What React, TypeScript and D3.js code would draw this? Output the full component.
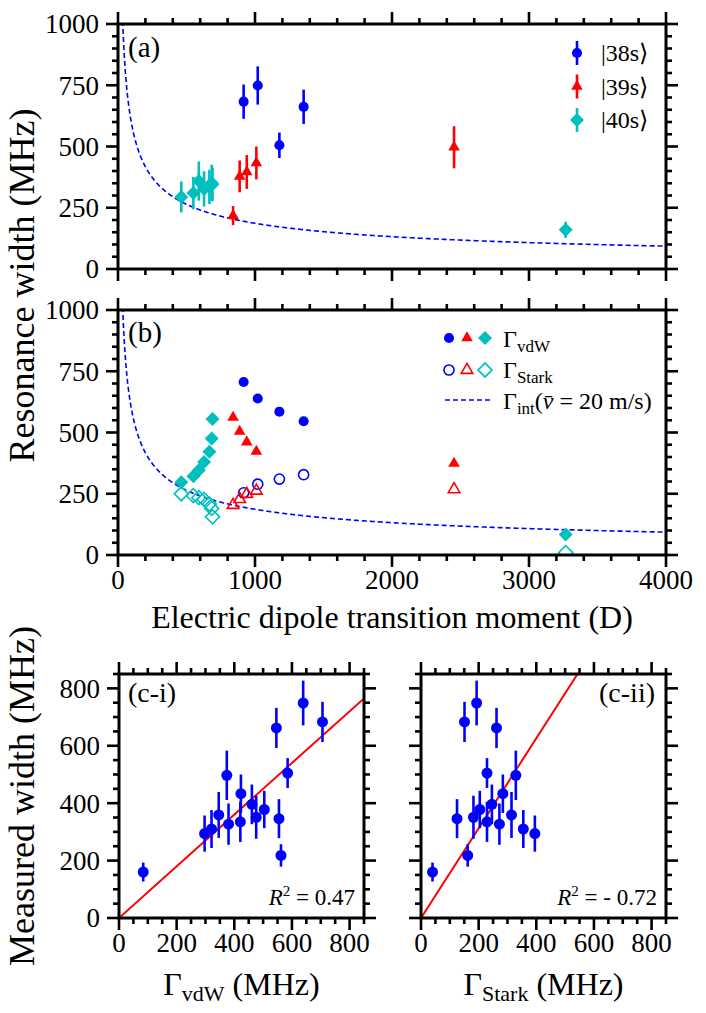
import React from 'react';
import * as d3 from 'd3';

// ---------- data ----------
// |38s>
const dipole38 = [917, 1020, 1178, 1355];
const measured38 = [683, 749, 505, 662];
const err38 = [70, 78, 52, 70];
const vdw38 = [706, 639, 585, 546];
const stark38 = [254, 289, 310, 328];
const starkFit38 = [151, 193, 229, 262];
// |39s>
const dipole39 = [840, 888, 940, 1010, 2453];
const measured39 = [218, 378, 396, 433, 497];
const err39 = [39, 65, 69, 67, 86];
const vdw39 = [562, 504, 461, 423, 374];
const stark39 = [204, 228, 249, 262, 268];
const starkFit39 = [162, 204, 246, 284, 329];
// |40s>
const dipole40 = [462, 550, 590, 628, 667, 684, 690, 3268];
const measured40 = [294, 310, 359, 327, 335, 351, 346, 160];
const err40 = [63, 66, 80, 72, 70, 75, 68, 33];
const vdw40 = [297, 321, 346, 380, 421, 476, 555, 84];
const stark40 = [250, 242, 234, 227, 208, 190, 156, 10];
const starkFit40 = [395, 355, 314, 272, 229, 182, 125, 40];

// interaction-time broadening curve Gamma_int ~ C / sqrt(d)
const gammaIntCoeff = 5900;
const gammaIntDipoles = d3.range(30, 4001, 2);

// linear fits through origin (slopes)
const fitSlopeVdw = 0.9;
const fitSlopeStark = 1.565;
const r2Vdw = '0.47';
const r2Stark = '- 0.72';

const xTicksAB = [0, 1000, 2000, 3000, 4000];
const yTicksAB = [0, 250, 500, 750, 1000];
const ticksC = [0, 200, 400, 600, 800];

const BLUE = '#0000ff';
const RED = '#ff0000';
const CYAN = '#00bfbf';
const FONT = '"Liberation Serif", "Times New Roman", serif';

// ---------- layout ----------
const A = { l: 118, r: 666, t: 24, b: 269 };
const B = { l: 118, r: 666, t: 310, b: 555 };
const C1 = { l: 119, r: 364, t: 674, b: 918 };
const C2 = { l: 421, r: 666, t: 674, b: 918 };

const xAB = d3.scaleLinear().domain([0, 4000]).range([A.l, A.r]);
const yA = d3.scaleLinear().domain([0, 1000]).range([A.b, A.t]);
const yB = d3.scaleLinear().domain([0, 1000]).range([B.b, B.t]);
const xC1 = d3.scaleLinear().domain([0, 850]).range([C1.l, C1.r]);
const xC2 = d3.scaleLinear().domain([0, 850]).range([C2.l, C2.r]);
const yC = d3.scaleLinear().domain([0, 850]).range([C1.b, C1.t]);

const circlePath = d3.symbol(d3.symbolCircle, 80)()!;
const circleCPath = d3.symbol(d3.symbolCircle, 95)()!;
const triPath = d3.symbol(d3.symbolTriangle, 58)()!;
const squarePath = d3.symbol(d3.symbolSquare, 98)()!;

type Shape = 'circle' | 'tri' | 'diamond';

function Marker({ x, y, shape, color, open }: { x: number; y: number; shape: Shape; color: string; open?: boolean }) {
  const d = shape === 'circle' ? circlePath : shape === 'tri' ? triPath : squarePath;
  const rot = shape === 'diamond' ? ' rotate(45)' : '';
  return (
    <path
      d={d}
      transform={`translate(${x},${y})${rot}`}
      fill={open ? 'none' : color}
      stroke={color}
      strokeWidth={open ? 1.6 : 0}
    />
  );
}

function Frame({
  box, xs, ys, xMajor, xMinor, yMajor, yMinor, xLabels, yLabels,
}: {
  box: { l: number; r: number; t: number; b: number };
  xs: d3.ScaleLinear<number, number>;
  ys: d3.ScaleLinear<number, number>;
  xMajor: number[]; xMinor: number[]; yMajor: number[]; yMinor: number[];
  xLabels: boolean; yLabels: boolean;
}) {
  const M = 12, m = 6;
  const els: React.ReactNode[] = [];
  const add = (v: number, len: number, key: string) => {
    const X = xs(v);
    els.push(<line key={`b${key}`} x1={X} x2={X} y1={box.b} y2={box.b + len} />);
    els.push(<line key={`t${key}`} x1={X} x2={X} y1={box.t} y2={box.t - len} />);
  };
  const addY = (v: number, len: number, key: string) => {
    const Y = ys(v);
    els.push(<line key={`l${key}`} x1={box.l} x2={box.l - len} y1={Y} y2={Y} />);
    els.push(<line key={`r${key}`} x1={box.r} x2={box.r + len} y1={Y} y2={Y} />);
  };
  xMajor.forEach((v) => add(v, M, `M${v}`));
  xMinor.forEach((v) => add(v, m, `m${v}`));
  yMajor.forEach((v) => addY(v, M, `M${v}`));
  yMinor.forEach((v) => addY(v, m, `m${v}`));
  return (
    <g>
      <g stroke="#000" strokeWidth={2.6}>{els}</g>
      <rect x={box.l} y={box.t} width={box.r - box.l} height={box.b - box.t} fill="none" stroke="#000" strokeWidth={3} />
      {xLabels && xMajor.map((v) => (
        <text key={`xl${v}`} x={xs(v)} y={box.b + 34} textAnchor="middle" fontSize={27} fontFamily={FONT}>{v}</text>
      ))}
      {yLabels && yMajor.map((v) => (
        <text key={`yl${v}`} x={box.l - 19} y={ys(v)} dy="0.35em" textAnchor="end" fontSize={27} fontFamily={FONT}>{v}</text>
      ))}
    </g>
  );
}

function ErrPoint({ x, y, y0, y1, shape, color }: { x: number; y: number; y0: number; y1: number; shape: Shape; color: string }) {
  return (
    <g>
      <line x1={x} x2={x} y1={y0} y2={y1} stroke={color} strokeWidth={2.6} />
      <Marker x={x} y={y} shape={shape} color={color} />
    </g>
  );
}

const minorRange = (a: number, b: number, step: number, majorStep: number) =>
  d3.range(a, b + 0.001, step).filter((v) => Math.abs(v % majorStep) > 1e-6);

export default function App() {
  const xMinorAB = minorRange(0, 4000, 200, 1000);
  const yMinorAB = minorRange(0, 1000, 50, 250);
  const minorC = minorRange(0, 850, 50, 200);

  const curveLine = (ys: d3.ScaleLinear<number, number>) =>
    d3.line<number>()
      .x((d) => xAB(d))
      .y((d) => ys(gammaIntCoeff / Math.sqrt(d)))(gammaIntDipoles) || '';

  const groups = [
    { D: dipole38, meas: measured38, err: err38, vdw: vdw38, stark: stark38, sfit: starkFit38, shape: 'circle' as Shape, color: BLUE },
    { D: dipole39, meas: measured39, err: err39, vdw: vdw39, stark: stark39, sfit: starkFit39, shape: 'tri' as Shape, color: RED },
    { D: dipole40, meas: measured40, err: err40, vdw: vdw40, stark: stark40, sfit: starkFit40, shape: 'diamond' as Shape, color: CYAN },
  ];

  const legA = [
    { label: '|38s⟩', shape: 'circle' as Shape, color: BLUE },
    { label: '|39s⟩', shape: 'tri' as Shape, color: RED },
    { label: '|40s⟩', shape: 'diamond' as Shape, color: CYAN },
  ];

  return (
    <svg width={706} height={1013} style={{ position: 'absolute', left: 0, top: 0, background: '#fff' }} fontFamily={FONT}>
      <rect width={706} height={1013} fill="#fff" />
      <defs>
        <clipPath id="clipA"><rect x={A.l} y={A.t} width={A.r - A.l} height={A.b - A.t} /></clipPath>
        <clipPath id="clipB"><rect x={B.l} y={B.t} width={B.r - B.l} height={B.b - B.t} /></clipPath>
        <clipPath id="clipC1"><rect x={C1.l} y={C1.t} width={C1.r - C1.l} height={C1.b - C1.t} /></clipPath>
        <clipPath id="clipC2"><rect x={C2.l} y={C2.t} width={C2.r - C2.l} height={C2.b - C2.t} /></clipPath>
      </defs>

      {/* ---------- panel (a) ---------- */}
      <path d={curveLine(yA)} fill="none" stroke={BLUE} strokeWidth={1.6} strokeDasharray="5,3" clipPath="url(#clipA)" />
      {groups.map((g, gi) => g.D.map((d, i) => (
        <ErrPoint key={`a${gi}-${i}`} x={xAB(d)} y={yA(g.meas[i])} y0={yA(g.meas[i] - g.err[i])} y1={yA(g.meas[i] + g.err[i])} shape={g.shape} color={g.color} />
      )))}
      <Frame box={A} xs={xAB} ys={yA} xMajor={xTicksAB} xMinor={xMinorAB} yMajor={yTicksAB} yMinor={yMinorAB} xLabels={false} yLabels={true} />
      <text x={128} y={57} fontSize={29}>(a)</text>
      {legA.map((e, i) => {
        const y = 53 + i * 33.5;
        return (
          <g key={`la${i}`}>
            <line x1={577} x2={577} y1={y - 12} y2={y + 12} stroke={e.color} strokeWidth={2.6} />
            <Marker x={577} y={y} shape={e.shape} color={e.color} />
            <text x={601} y={y} dy="0.35em" fontSize={24}>{e.label}</text>
          </g>
        );
      })}

      {/* ---------- panel (b) ---------- */}
      <path d={curveLine(yB)} fill="none" stroke={BLUE} strokeWidth={1.6} strokeDasharray="5,3" clipPath="url(#clipB)" />
      <g clipPath="url(#clipB)">
        {groups.map((g, gi) => g.D.map((d, i) => (
          <Marker key={`bo${gi}-${i}`} x={xAB(d)} y={yB(g.stark[i])} shape={g.shape} color={g.color} open />
        )))}
        {groups.map((g, gi) => g.D.map((d, i) => (
          <Marker key={`bf${gi}-${i}`} x={xAB(d)} y={yB(g.vdw[i])} shape={g.shape} color={g.color} />
        )))}
      </g>
      <Frame box={B} xs={xAB} ys={yB} xMajor={xTicksAB} xMinor={xMinorAB} yMajor={yTicksAB} yMinor={yMinorAB} xLabels={true} yLabels={true} />
      <text x={128} y={342} fontSize={29}>(b)</text>
      {/* legend (b) */}
      <Marker x={449} y={338} shape="circle" color={BLUE} />
      <Marker x={467} y={338} shape="tri" color={RED} />
      <Marker x={485} y={338} shape="diamond" color={CYAN} />
      <text x={503} y={347} fontSize={24}>Γ<tspan fontSize={17} dy={5}>vdW</tspan></text>
      <Marker x={449} y={370} shape="circle" color={BLUE} open />
      <Marker x={467} y={370} shape="tri" color={RED} open />
      <Marker x={485} y={370} shape="diamond" color={CYAN} open />
      <text x={503} y={378} fontSize={24}>Γ<tspan fontSize={17} dy={5}>Stark</tspan></text>
      <line x1={445} x2={491} y1={400} y2={400} stroke={BLUE} strokeWidth={1.6} strokeDasharray="5,3" />
      <text x={503} y={409} fontSize={24}>Γ<tspan fontSize={17} dy={5}>int</tspan><tspan dy={-5}>(</tspan><tspan fontStyle="italic">v̄</tspan><tspan> = 20 m/s)</tspan></text>

      {/* axis titles (a,b) */}
      <text transform={`translate(34,${(A.t + B.b) / 2 - 4}) rotate(-90)`} textAnchor="middle" fontSize={36}>Resonance width (MHz)</text>
      <text x={(B.l + B.r) / 2 + 0} y={628} textAnchor="middle" fontSize={32}>Electric dipole transition moment (D)</text>

      {/* ---------- panel (c-i) ---------- */}
      <line x1={xC1(0)} y1={yC(0)} x2={xC1(850)} y2={yC(850 * fitSlopeVdw)} stroke={RED} strokeWidth={2} clipPath="url(#clipC1)" />
      {groups.map((g, gi) => g.D.map((_, i) => (
        <g key={`c1${gi}-${i}`}>
          <line x1={xC1(g.vdw[i])} x2={xC1(g.vdw[i])} y1={yC(g.meas[i] - g.err[i])} y2={yC(g.meas[i] + g.err[i])} stroke={BLUE} strokeWidth={2.6} />
          <path d={circleCPath} transform={`translate(${xC1(g.vdw[i])},${yC(g.meas[i])})`} fill={BLUE} />
        </g>
      )))}
      <Frame box={C1} xs={xC1} ys={yC} xMajor={ticksC} xMinor={minorC} yMajor={ticksC} yMinor={minorC} xLabels={true} yLabels={true} />
      <text x={128} y={702} fontSize={28}>(c-i)</text>
      <text x={355} y={905} textAnchor="end" fontSize={23}><tspan fontStyle="italic">R</tspan><tspan fontSize={15} dy={-9}>2</tspan><tspan dy={9}> = {r2Vdw}</tspan></text>

      {/* ---------- panel (c-ii) ---------- */}
      <line x1={xC2(0)} y1={yC(0)} x2={xC2(850 / fitSlopeStark)} y2={yC(850)} stroke={RED} strokeWidth={2} clipPath="url(#clipC2)" />
      {groups.map((g, gi) => g.D.map((_, i) => (
        <g key={`c2${gi}-${i}`}>
          <line x1={xC2(g.sfit[i])} x2={xC2(g.sfit[i])} y1={yC(g.meas[i] - g.err[i])} y2={yC(g.meas[i] + g.err[i])} stroke={BLUE} strokeWidth={2.6} />
          <path d={circleCPath} transform={`translate(${xC2(g.sfit[i])},${yC(g.meas[i])})`} fill={BLUE} />
        </g>
      )))}
      <Frame box={C2} xs={xC2} ys={yC} xMajor={ticksC} xMinor={minorC} yMajor={ticksC} yMinor={minorC} xLabels={true} yLabels={false} />
      <text x={655} y={702} textAnchor="end" fontSize={28}>(c-ii)</text>
      <text x={657} y={905} textAnchor="end" fontSize={23}><tspan fontStyle="italic">R</tspan><tspan fontSize={15} dy={-9}>2</tspan><tspan dy={9}> = {r2Stark}</tspan></text>

      {/* axis titles (c) */}
      <text transform={`translate(34,${(C1.t + C1.b) / 2}) rotate(-90)`} textAnchor="middle" fontSize={36}>Measured width (MHz)</text>
      <text x={(C1.l + C1.r) / 2} y={995} textAnchor="middle" fontSize={32}>Γ<tspan fontSize={22} dy={6}>vdW</tspan><tspan dy={-6}> (MHz)</tspan></text>
      <text x={(C2.l + C2.r) / 2} y={995} textAnchor="middle" fontSize={32}>Γ<tspan fontSize={22} dy={6}>Stark</tspan><tspan dy={-6}> (MHz)</tspan></text>
    </svg>
  );
}
